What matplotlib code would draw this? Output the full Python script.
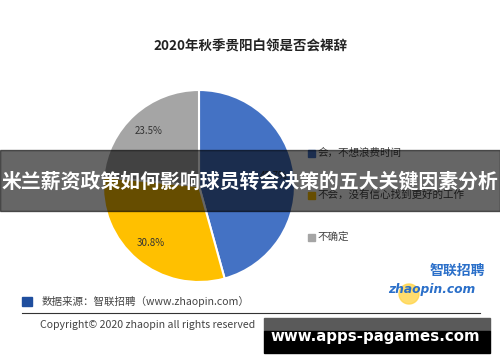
import matplotlib.pyplot as plt
from matplotlib.patches import Rectangle, Circle

plt.rcParams['font.family'] = ['Noto Sans CJK SC', 'DejaVu Sans']

title = "2020年秋季贵阳白领是否会裸辞"
labels = ["会，不想浪费时间", "不会，没有信心找到更好的工作", "不确定"]
values = [45.7, 30.8, 23.5]
colors = ["#4472C4", "#FFC000", "#A5A5A5"]
overlay_text = "米兰薪资政策如何影响球员转会决策的五大关键因素分析"
source_text = "数据来源：智联招聘（www.zhaopin.com）"
copyright_text = "Copyright© 2020 zhaopin all rights reserved"
site_text = "www.apps-pagames.com"

W, H = 500, 362
def Y(p):
    return H - p

fig = plt.figure(figsize=(5, 3.62), dpi=100)
ax = fig.add_axes([0, 0, 1, 1])

wedges, texts, autotexts = ax.pie(values, colors=colors, startangle=90, counterclock=False,
                                  center=(199, Y(186)), radius=96, autopct='%.1f%%',
                                  pctdistance=0.78,
                                  wedgeprops=dict(edgecolor='white', linewidth=1.5),
                                  textprops=dict(fontsize=7, color='#333333'))
ax.set_xlim(0, W)
ax.set_ylim(0, H)
ax.set_aspect('auto')
ax.axis('off')

ax.text(250, Y(47), title, ha='center', va='center', fontsize=9.7, fontweight='bold', color='#222222')

# legend
for i, (lab, c) in enumerate(zip(labels, colors)):
    yy = Y(153 + i * 42)
    ax.add_patch(Rectangle((308, yy - 3.5), 7, 7, color=c))
    ax.text(318, yy, lab, ha='left', va='center', fontsize=7.6, color='#444444')

# source / copyright
ax.add_patch(Rectangle((22, Y(306)), 10, 9, color='#1F4E9E'))
ax.text(42, Y(301), source_text, ha='left', va='center', fontsize=7.6, color='#444444')
ax.plot([22, 480], [Y(313), Y(313)], color='#333333', lw=0.8)
ax.text(40, Y(325), copyright_text, ha='left', va='center', fontsize=7.6, color='#444444')

# zhaopin logo
ax.add_patch(Circle((409, Y(294)), 10, color='#FFD54A', alpha=0.8))
ax.text(457, Y(271), "智联招聘", ha='center', va='center', fontsize=10, fontweight='bold',
        style='italic', color='#2A6FC9')
ax.text(432, Y(289), "zhaopin.com", ha='center', va='center', fontsize=8.8, fontweight='bold',
        style='italic', color='#2A6FC9', family='DejaVu Sans')

# overlay band
ax.add_patch(Rectangle((0, Y(211)), W, 61, color='black', alpha=0.6, zorder=5))
ax.text(250, Y(181), overlay_text, ha='center', va='center', fontsize=14.3, fontweight='bold',
        color='white', zorder=6)

# site box
ax.add_patch(Rectangle((264, Y(331)), 226, 13, color='#5a5a5a', zorder=5))
ax.add_patch(Rectangle((264, Y(353)), 226, 22, color='black', zorder=5))
ax.text(375, Y(337), site_text, ha='center', va='center', fontsize=10.8, fontweight='bold',
        color='white', family='DejaVu Sans', zorder=6)

fig.savefig('out.png', dpi=100)
